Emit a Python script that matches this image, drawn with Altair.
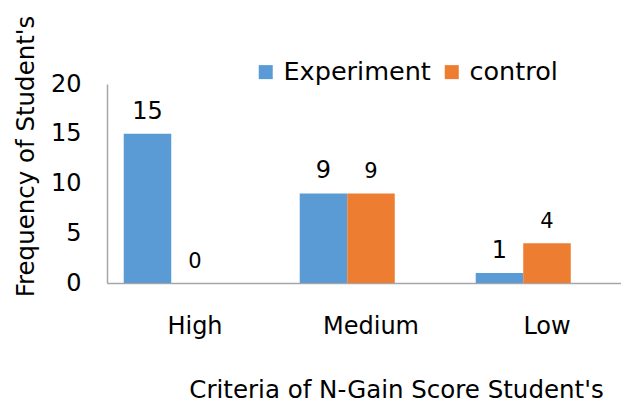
import altair as alt
import pandas as pd

categories = ["High", "Medium", "Low"]
series = ["Experiment", "control"]
experiment = [15, 9, 1]
control = [0, 9, 4]

rows = []
for c, e, k in zip(categories, experiment, control):
    rows.append({"criteria": c, "series": "Experiment", "value": e})
    rows.append({"criteria": c, "series": "control", "value": k})
df = pd.DataFrame(rows)

FONT = "DejaVu Sans"

x = alt.X(
    "criteria:N",
    sort=categories,
    scale=alt.Scale(domain=categories, range=[0, 528], paddingInner=0.19, paddingOuter=0.095),
    axis=alt.Axis(
        title="Criteria of N-Gain Score Student's",
        labelAngle=0,
        ticks=False,
        labelFontSize=24,
        labelBaseline="alphabetic",
        labelPadding=50,
        labelColor="#000000",
        domainColor="#A6A6A6",
        domainWidth=1.5,
        titleFontSize=24.5,
        titleFontWeight="normal",
        titleColor="#000000",
        titleX=289,
        titleY=114,
        titleBaseline="alphabetic",
    ),
)
xoff = alt.XOffset("series:N", scale=alt.Scale(domain=["Experiment", "control", "_"], paddingInner=0, paddingOuter=0))
y = alt.Y(
    "value:Q",
    scale=alt.Scale(domain=[0, 20], nice=False),
    axis=alt.Axis(
        title="Frequency of Student's",
        values=[0, 5, 10, 15, 20],
        grid=False,
        ticks=False,
        labelFontSize=24,
        labelPadding=26,
        labelColor="#000000",
        domainColor="#A6A6A6",
        domainWidth=1.5,
        titleFontSize=24.5,
        titleFontWeight="normal",
        titleColor="#000000",
        titleX=-74,
        titleY=72,
        titleBaseline="alphabetic",
    ),
)

bars = alt.Chart(df).mark_bar().encode(
    x=x,
    xOffset=xoff,
    y=y,
    color=alt.Color(
        "series:N",
        scale=alt.Scale(domain=series, range=["#5B9BD5", "#ED7D31"]),
        legend=alt.Legend(
            title=None,
            orient="none",
            legendX=146,
            legendY=-25,
            direction="horizontal",
            symbolType="square",
            symbolSize=196,
            symbolStrokeWidth=0,
            labelFontSize=25.5,
            labelColor="#000000",
            labelOffset=5,
            columnPadding=8,
            padding=0,
        ),
    ),
)

exp_labels = alt.Chart(df).transform_filter(alt.datum.series == "Experiment").mark_text(
    baseline="alphabetic", dy=-15, color="#000000", fontSize=24
).encode(x=x, xOffset=xoff, y=y, text="value:Q")

ctl_labels = alt.Chart(df).transform_filter(alt.datum.series == "control").mark_text(
    baseline="alphabetic", dy=-15, color="#000000", fontSize=21
).encode(x=x, xOffset=xoff, y=y, text="value:Q")

chart = (
    alt.layer(bars, exp_labels, ctl_labels)
    .properties(
        width=514,
        height=199,
        autosize=alt.AutoSizeParams(type="none"),
        padding={"left": 107, "top": 84, "right": 0, "bottom": 120},
    )
    .configure(font=FONT)
    .configure_view(stroke=None)
)

chart.save("out.html", embed_options={"renderer": "svg", "actions": False})
